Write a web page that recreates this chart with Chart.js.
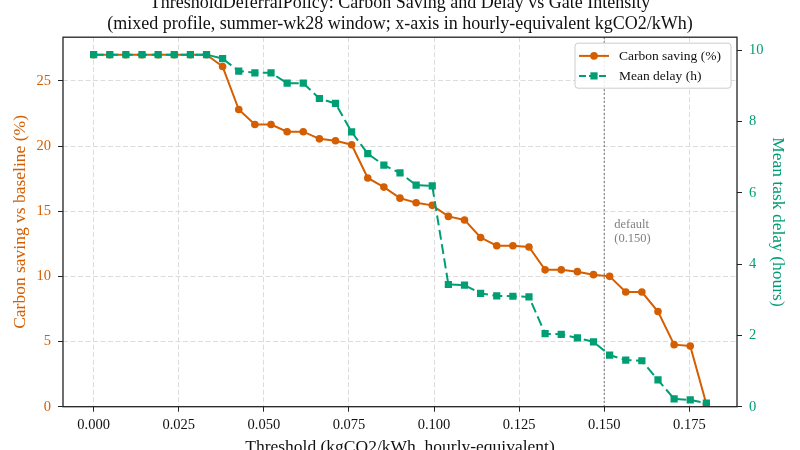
<!DOCTYPE html>
<html>
<head>
<meta charset="utf-8">
<script src="https://cdn.jsdelivr.net/npm/chart.js@4.4.1/dist/chart.umd.min.js"></script>
<style>
  html, body { margin: 0; padding: 0; background: #fff; overflow: hidden; }
  #wrap { position: relative; width: 800px; height: 450px; overflow: hidden; }
  #myChart { position: absolute; left: 0; top: -20px; }
</style>
</head>
<body>
<div id="wrap"><canvas id="myChart" width="800" height="490"></canvas></div>
<script>
// umbrales (kgCO2/kWh, equivalente horario)
const umbrales = [0, 0.00474, 0.00947, 0.01421, 0.01895, 0.02368, 0.02842, 0.03316, 0.03789, 0.04263,
  0.04737, 0.05211, 0.05684, 0.06158, 0.06632, 0.07105, 0.07579, 0.08053, 0.08526, 0.09,
  0.09474, 0.09947, 0.10421, 0.10895, 0.11368, 0.11842, 0.12316, 0.12789, 0.13263, 0.13737,
  0.14211, 0.14684, 0.15158, 0.15632, 0.16105, 0.16579, 0.17053, 0.17526, 0.18];
// ahorro de carbono (%)
const ahorro = [27.0, 27.0, 27.0, 27.0, 27.0, 27.0, 27.0, 27.0, 26.1, 22.8,
  21.65, 21.65, 21.1, 21.1, 20.55, 20.4, 20.1, 17.55, 16.85, 16.0,
  15.65, 15.45, 14.6, 14.33, 12.98, 12.35, 12.35, 12.25, 10.5, 10.5,
  10.36, 10.13, 10.0, 8.8, 8.8, 7.3, 4.76, 4.66, 0.2];
// retraso medio (h)
const retraso = [9.88, 9.88, 9.88, 9.88, 9.88, 9.88, 9.88, 9.88, 9.77, 9.42,
  9.37, 9.37, 9.08, 9.08, 8.65, 8.51, 7.71, 7.1, 6.78, 6.56,
  6.22, 6.2, 3.43, 3.41, 3.18, 3.11, 3.1, 3.08, 2.05, 2.03,
  1.93, 1.82, 1.45, 1.31, 1.29, 0.75, 0.22, 0.19, 0.1];
const umbralDefault = 0.15;
const etiquetasSerie = ["Carbon saving (%)", "Mean delay (h)"];
const tituloGrafico = [
  "ThresholdDeferralPolicy: Carbon Saving and Delay vs Gate Intensity",
  "(mixed profile, summer-wk28 window; x-axis in hourly-equivalent kgCO2/kWh)"
];

const naranja = "#D55E00";
const verde = "#009E73";
const fuente = "'Liberation Serif', 'DejaVu Serif', serif";
Chart.defaults.font.family = fuente;
Chart.defaults.color = "#111";

//linea punteada del umbral por defecto + texto
const lineaDefault = {
  id: "lineaDefault",
  beforeDatasetsDraw(chart) {
    const ctx = chart.ctx, area = chart.chartArea;
    const x = chart.scales.x.getPixelForValue(umbralDefault);
    ctx.save();
    ctx.strokeStyle = "#666";
    ctx.lineWidth = 1.2;
    ctx.setLineDash([1.5, 2.5]);
    ctx.beginPath();
    ctx.moveTo(x, area.top);
    ctx.lineTo(x, area.bottom);
    ctx.stroke();
    ctx.setLineDash([]);
    ctx.fillStyle = "#808080";
    ctx.font = "12.5px " + fuente;
    ctx.textAlign = "left";
    ctx.textBaseline = "middle";
    const y = chart.scales.y.getPixelForValue(14.0);
    ctx.fillText("default", x + 10, y);
    ctx.fillText("(" + umbralDefault.toFixed(3) + ")", x + 10, y + 14);
    ctx.restore();
  }
};

//marco completo y leyenda dentro del area
const marcoLeyenda = {
  id: "marcoLeyenda",
  afterDatasetsDraw(chart) {
    const ctx = chart.ctx, a = chart.chartArea;
    ctx.save();
    ctx.strokeStyle = "#222";
    ctx.lineWidth = 1.3;
    ctx.strokeRect(a.left, a.top, a.right - a.left, a.bottom - a.top);

    const bx = a.right - 162, by = a.top + 6, bw = 156, bh = 45;
    ctx.fillStyle = "rgba(255,255,255,0.85)";
    ctx.strokeStyle = "#cccccc";
    ctx.lineWidth = 1;
    ctx.beginPath();
    ctx.roundRect(bx, by, bw, bh, 3);
    ctx.fill();
    ctx.stroke();

    const filas = [
      { color: naranja, dash: [], forma: "circle", y: by + 12.7 },
      { color: verde, dash: [7, 3], forma: "rect", y: by + 32.7 }
    ];
    filas.forEach(function (f, i) {
      ctx.strokeStyle = f.color;
      ctx.lineWidth = 2;
      ctx.setLineDash(f.dash);
      ctx.beginPath();
      ctx.moveTo(bx + 4, f.y);
      ctx.lineTo(bx + 34, f.y);
      ctx.stroke();
      ctx.setLineDash([]);
      ctx.fillStyle = f.color;
      if (f.forma === "circle") {
        ctx.beginPath();
        ctx.arc(bx + 19, f.y, 3.8, 0, Math.PI * 2);
        ctx.fill();
      } else {
        ctx.fillRect(bx + 15.4, f.y - 3.6, 7.2, 7.2);
      }
      ctx.fillStyle = "#111";
      ctx.font = "13.5px " + fuente;
      ctx.textAlign = "left";
      ctx.textBaseline = "middle";
      ctx.fillText(etiquetasSerie[i], bx + 44, f.y + 0.5);
    });
    ctx.restore();
  }
};

const puntosAhorro = umbrales.map((u, i) => ({ x: u, y: ahorro[i] }));
const puntosRetraso = umbrales.map((u, i) => ({ x: u, y: retraso[i] }));

const grafica = new Chart(document.getElementById("myChart").getContext("2d"), {
  type: "line",
  data: {
    datasets: [
      {
        label: etiquetasSerie[0],
        data: puntosAhorro,
        yAxisID: "y",
        borderColor: naranja,
        backgroundColor: naranja,
        borderWidth: 2,
        pointStyle: "circle",
        pointRadius: 3.8,
        pointBorderWidth: 0,
        tension: 0,
        order: 2
      },
      {
        label: etiquetasSerie[1],
        data: puntosRetraso,
        yAxisID: "y2",
        borderColor: verde,
        backgroundColor: verde,
        borderWidth: 2,
        borderDash: [10, 4.5],
        pointStyle: "rect",
        pointRadius: 5.1,
        pointBorderWidth: 0,
        tension: 0,
        order: 1
      }
    ]
  },
  options: {
    responsive: false,
    animation: false,
    layout: { padding: 0 },
    plugins: {
      legend: { display: false },
      tooltip: { enabled: false },
      title: {
        display: true,
        text: tituloGrafico,
        color: "#111",
        font: { size: 18, weight: "normal", lineHeight: 1.2 },
        padding: { top: 12, bottom: 2 }
      }
    },
    scales: {
      x: {
        type: "linear",
        min: -0.009,
        max: 0.189,
        afterFit: (s) => { s.height = 63.3; },
        ticks: {
          stepSize: 0.025,
          includeBounds: false,
          color: "#111",
          font: { size: 14.5 },
          padding: 5,
          maxRotation: 0,
          autoSkip: false,
          callback: (v) => v.toFixed(3)
        },
        grid: { color: "#dcdcdc", lineWidth: 1, tickColor: "#222", tickLength: 5, tickWidth: 1 },
        border: { display: false, dash: [5, 2.5] },
        title: {
          display: true,
          text: "Threshold (kgCO2/kWh, hourly-equivalent)",
          color: "#111",
          font: { size: 17.5 },
          padding: { top: 0, bottom: 12.5 }
        }
      },
      y: {
        position: "left",
        min: 0,
        max: 28.35,
        afterFit: (s) => { s.width = 63; },
        ticks: {
          stepSize: 5,
          includeBounds: false,
          color: naranja,
          font: { size: 14.5 },
          padding: 7
        },
        grid: { color: "#dcdcdc", lineWidth: 1, tickColor: "#222", tickLength: 5, tickWidth: 1 },
        border: { display: false, dash: [5, 2.5] },
        title: {
          display: true,
          text: "Carbon saving vs baseline (%)",
          color: naranja,
          font: { size: 17.5 },
          padding: { top: 9.5, bottom: 0 }
        }
      },
      y2: {
        position: "right",
        min: 0,
        max: 10.37,
        afterFit: (s) => { s.width = 63; },
        ticks: {
          stepSize: 2,
          includeBounds: false,
          color: verde,
          font: { size: 14.5 },
          padding: 7
        },
        grid: { drawOnChartArea: false, tickColor: "#222", tickLength: 5, tickWidth: 1 },
        border: { display: false },
        title: {
          display: true,
          text: "Mean task delay (hours)",
          color: verde,
          font: { size: 17.5 },
          padding: { top: 11.5, bottom: 0 }
        }
      }
    }
  },
  plugins: [lineaDefault, marcoLeyenda]
});
</script>
</body>
</html>
